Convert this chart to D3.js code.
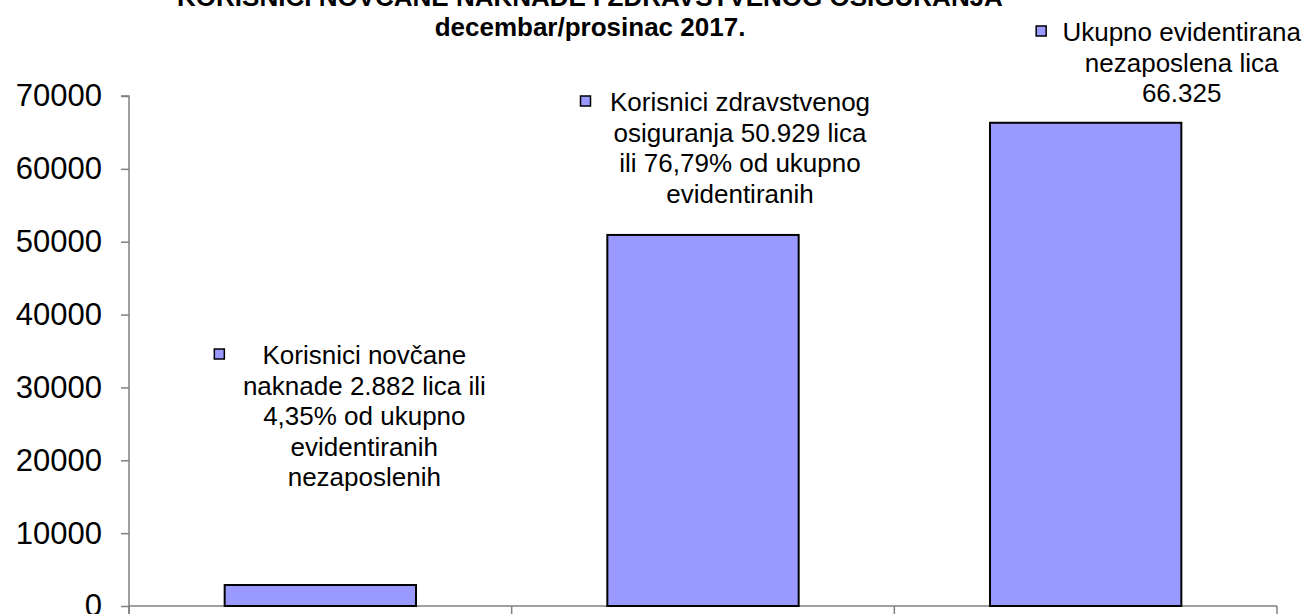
<!DOCTYPE html>
<html>
<head>
<meta charset="utf-8">
<script src="https://cdn.jsdelivr.net/npm/d3@7"></script>
<style>
  html, body { margin: 0; padding: 0; background: #fff; }
  svg { display: block; }
  text { font-family: "Liberation Sans", Arial, sans-serif; fill: #000; }
</style>
</head>
<body>
<svg id="chart" width="1306" height="614"></svg>
<script>
// ---- data ----
const categories = ["novcana_naknada", "zdravstveno_osiguranje", "ukupno_evidentirani"];
const values = [2882, 50929, 66325];
const yTickValues = [0, 10000, 20000, 30000, 40000, 50000, 60000, 70000];
const titleLines = ["KORISNICI NOVČANE NAKNADE I ZDRAVSTVENOG OSIGURANJA", "decembar/prosinac 2017."];
const labelLines1 = ["Korisnici novčane", "naknade 2.882 lica ili", "4,35% od ukupno", "evidentiranih", "nezaposlenih"];
const labelLines2 = ["Korisnici zdravstvenog", "osiguranja 50.929 lica", "ili 76,79% od ukupno", "evidentiranih"];
const labelLines3 = ["Ukupno evidentirana", "nezaposlena lica", "66.325"];
const labelLines = [labelLines1, labelLines2, labelLines3];

// ---- layout / style ----
const W = 1306, H = 614;
const plot = { left: 129, right: 1277, top: 96, bottom: 606 };
const barFill = "#9999FF";
const axisColor = "#808080";
const labelFont = 26, lineH = 30.5;
// label placement (manually placed labels in the original), relative to band centre
const labelLayout = [
  { dx: 44,  baseline: 364, keyDx: -145 },
  { dx: 37,  baseline: 111, keyDx: -154.5 },
  { dx: 96,  baseline: 41,  keyDx: -140.5 }
];

const svg = d3.select("#chart");

const x = d3.scaleBand().domain(categories).range([plot.left, plot.right])
  .paddingInner(0.5).paddingOuter(0.25);
const y = d3.scaleLinear().domain([0, 70000]).range([plot.bottom, plot.top]);

// title
svg.append("g").selectAll("text").data(titleLines).join("text")
  .attr("x", 590).attr("y", (d, i) => 6 + i * 29.5)
  .attr("text-anchor", "middle")
  .style("font-size", "26px").style("font-weight", "bold")
  .text(d => d);

// y axis
const yAxis = d3.axisLeft(y).tickValues(yTickValues).tickSize(8).tickPadding(19)
  .tickFormat(d3.format("d"));
const gy = svg.append("g").attr("transform", `translate(${plot.left},0)`).call(yAxis);
gy.select(".domain").attr("stroke", axisColor).attr("stroke-width", 1.5)
  .attr("d", `M-8,${plot.top}H0V${plot.bottom + 10}`);
gy.selectAll(".tick line").attr("stroke", axisColor).attr("stroke-width", 1.5);
gy.selectAll(".tick text").style("font-size", "31px")
  .style("font-family", '"Liberation Sans", Arial, sans-serif').attr("fill", "#000");

// x axis: baseline plus boundary ticks going down
const step = x.step();
const boundaries = d3.range(categories.length + 1).map(i => plot.left + i * step);
const gx = svg.append("g");
gx.append("line").attr("x1", plot.left).attr("x2", plot.right)
  .attr("y1", y(0)).attr("y2", y(0))
  .attr("stroke", axisColor).attr("stroke-width", 1.5);
gx.selectAll("line.tk").data(boundaries).join("line").attr("class", "tk")
  .attr("x1", d => d).attr("x2", d => d)
  .attr("y1", y(0)).attr("y2", y(0) + 10)
  .attr("stroke", axisColor).attr("stroke-width", 1.5);

// bars
svg.append("g").selectAll("rect").data(values).join("rect")
  .attr("x", (d, i) => x(categories[i]))
  .attr("y", d => y(d))
  .attr("width", x.bandwidth())
  .attr("height", d => y(0) - y(d))
  .attr("fill", barFill)
  .attr("stroke", "#000").attr("stroke-width", 2);

// data labels with legend keys
const lg = svg.append("g");
labelLines.forEach((lines, i) => {
  const L = labelLayout[i];
  const cx = x(categories[i]) + x.bandwidth() / 2 + L.dx;
  lg.append("text")
    .attr("text-anchor", "middle")
    .style("font-size", labelFont + "px")
    .selectAll("tspan").data(lines).join("tspan")
    .attr("x", cx).attr("y", (d, j) => L.baseline + j * lineH)
    .text(d => d);
  lg.append("rect")
    .attr("x", cx + L.keyDx - 5).attr("y", L.baseline - 10 - 5)
    .attr("width", 10).attr("height", 10)
    .attr("fill", barFill).attr("stroke", "#000").attr("stroke-width", 1.5);
});
</script>
</body>
</html>
